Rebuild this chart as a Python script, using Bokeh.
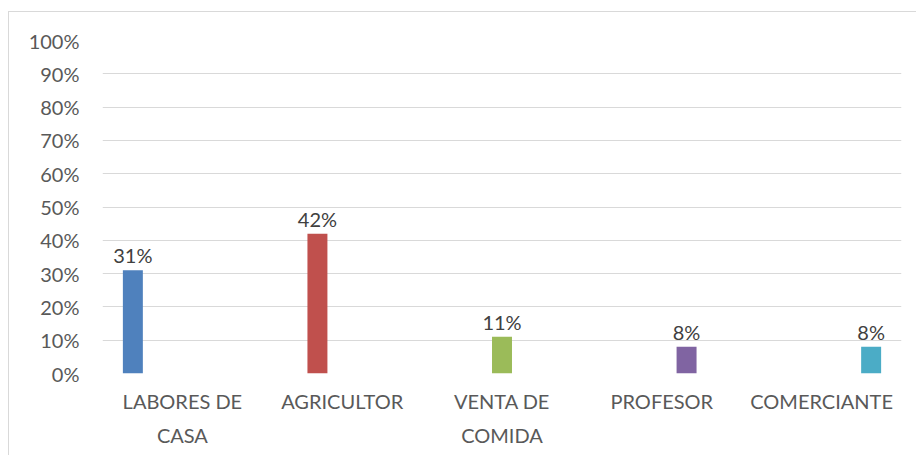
import numpy as np
from bokeh.plotting import figure
from bokeh.models import ColumnDataSource, Range1d, FixedTicker, NumeralTickFormatter
from bokeh.core.properties import value
from bokeh.embed import file_html
from bokeh.resources import INLINE

categories = ["LABORES DE\nCASA", "AGRICULTOR", "VENTA DE\nCOMIDA", "PROFESOR", "COMERCIANTE"]
values = [0.31, 0.42, 0.11, 0.08, 0.08]
value_labels = ["31%", "42%", "11%", "8%", "8%"]
colors = ["#4F81BD", "#C0504D", "#9BBB59", "#8064A2", "#4BACC6"]
y_ticks = [0, 0.1, 0.2, 0.3, 0.4, 0.5, 0.6, 0.7, 0.8, 0.9, 1.0]

FONT = "Lato"
n = len(categories)
centers = np.arange(n) + 0.5

p = figure(width=908, height=444, x_range=Range1d(0, n), y_range=Range1d(0, 1),
           output_backend="svg", toolbar_location=None,
           min_border_left=93, min_border_right=16, min_border_top=28, min_border_bottom=83)
p.styles = {"border-left": "1px solid #D9D9D9", "border-top": "1px solid #D9D9D9",
            "margin-left": "8px", "margin-top": "11px"}
p.outline_line_color = None
p.background_fill_color = "white"
p.border_fill_color = "white"

for i in range(n):
    off = (i - (n - 1) / 2) * 0.155
    src = ColumnDataSource(dict(x=[centers[i] + off], val=[values[i]], lab=[value_labels[i]]))
    p.vbar(x="x", top="val", width=0.125, source=src, fill_color=colors[i], line_color=None)
    p.text(x="x", y="val", text="lab", source=src,
           text_align="center", text_baseline="bottom", y_offset=-3,
           text_font=value(FONT), text_font_size="20px", text_color="#404040")

p.xaxis.ticker = FixedTicker(ticks=list(centers))
p.xaxis.major_label_overrides = {float(c): lab for c, lab in zip(centers, categories)}
p.yaxis.ticker = FixedTicker(ticks=y_ticks)
p.yaxis.formatter = NumeralTickFormatter(format="0%")
p.ygrid.ticker = FixedTicker(ticks=y_ticks)
p.ygrid.grid_line_color = "#D9D9D9"
p.ygrid.grid_line_width = 1
p.xgrid.grid_line_color = None

for ax in (p.xaxis + p.yaxis):
    ax.axis_line_color = None
    ax.major_tick_line_color = None
    ax.minor_tick_line_color = None
    ax.major_label_text_font = FONT
    ax.major_label_text_font_size = "20px"
    ax.major_label_text_color = "#595959"
    ax.major_label_text_line_height = 1.45

p.xaxis.major_label_standoff = 9
p.yaxis.major_label_standoff = 17

open("out.html", "w").write(file_html(p, INLINE))
